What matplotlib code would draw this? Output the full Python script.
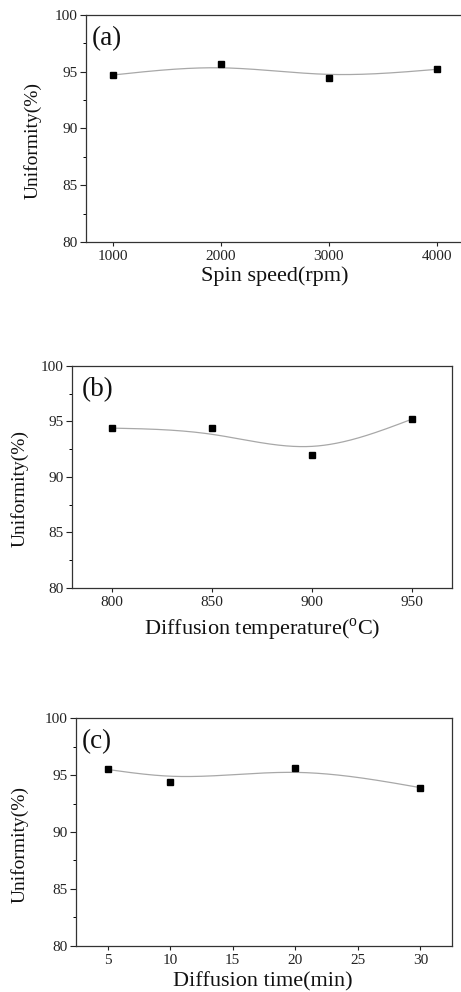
import numpy as np
import matplotlib
matplotlib.use('Agg')
import matplotlib.pyplot as plt

plt.rcParams['font.family'] = ['Liberation Serif', 'DejaVu Serif']
plt.rcParams['mathtext.fontset'] = 'custom'
plt.rcParams['mathtext.rm'] = 'Liberation Serif'

# (a) spin speed
speed = [1000, 2000, 3000, 4000]
unif_speed = [94.7, 95.7, 94.4, 95.2]
# (b) diffusion temperature
temp = [800, 850, 900, 950]
unif_temp = [94.4, 94.4, 92.0, 95.2]
# (c) diffusion time
dtime = [5, 10, 20, 30]
unif_time = [95.5, 94.4, 95.6, 93.9]


def smooth_curve(x, y, lam=0.002, n=400):
    # penalised (smoothing-spline like) curve, ends held on the data
    x = np.asarray(x, float)
    y = np.asarray(y, float)
    t = (x - x[0]) / (x[-1] - x[0])
    g = np.linspace(0, 1, n)
    h = g[1] - g[0]
    A = np.zeros((len(t), n))
    for i, ti in enumerate(t):
        k = min(int(ti / h), n - 2)
        w = (ti - g[k]) / h
        A[i, k] = 1 - w
        A[i, k + 1] = w
    D = np.diff(np.eye(n), 2, axis=0) / h**2
    wts = np.ones(len(t))
    wts[0] = wts[-1] = 1e6
    M = A.T @ (wts[:, None] * A) + lam * h * D.T @ D
    f = np.linalg.solve(M, A.T @ (wts * y))
    return x[0] + g * (x[-1] - x[0]), f


fig = plt.figure(figsize=(4.61, 9.92), dpi=100)

panels = [
    dict(rect=[0.1866, 0.756, 0.8193, 0.2291], x=speed, y=unif_speed,
         xlim=(750, 4250), xticks=[1000, 2000, 3000, 4000],
         xlabel='Spin speed(rpm)', tag='(a)',
         xl=(0.5, -0.15), yl=(-0.14, 0.445), tg=(0.015, 0.893)),
    dict(rect=[0.1568, 0.4073, 0.823, 0.2238], x=temp, y=unif_temp,
         xlim=(780, 970), xticks=[800, 850, 900, 950],
         xlabel='Diffusion temperature($^{\\rm o}$C)', tag='(b)',
         xl=(0.5, -0.19), yl=(-0.138, 0.446), tg=(0.025, 0.892)),
    dict(rect=[0.1655, 0.0467, 0.8143, 0.2292], x=dtime, y=unif_time,
         xlim=(2.5, 32.5), xticks=[5, 10, 15, 20, 25, 30],
         xlabel='Diffusion time(min)', tag='(c)',
         xl=(0.497, -0.158), yl=(-0.15, 0.445), tg=(0.014, 0.897)),
]

for p in panels:
    ax = fig.add_axes(p['rect'])
    cx, cy = smooth_curve(p['x'], p['y'])
    ax.plot(cx, cy, color='#a8a8a8', lw=0.9, zorder=2)
    ax.plot(p['x'], p['y'], 's', color='black', ms=4, zorder=3)
    ax.set_xlim(*p['xlim'])
    ax.set_ylim(80, 100)
    ax.set_xticks(p['xticks'])
    ax.set_yticks([80, 85, 90, 95, 100])
    ax.set_yticks(np.arange(82.5, 100, 5), minor=True)
    for s in ax.spines.values():
        s.set_color('#333333')
        s.set_linewidth(0.9)
    ax.tick_params(axis='both', direction='out', labelsize=11, colors='#222222',
                   width=0.8, top=False, right=False)
    ax.tick_params(axis='x', length=3, pad=3)
    ax.tick_params(axis='y', which='major', length=4, pad=2)
    ax.tick_params(axis='y', which='minor', length=2.5, width=0.7)
    ax.set_xlabel(p['xlabel'], fontsize=16, color='#111111')
    ax.xaxis.set_label_coords(*p['xl'])
    ax.xaxis.label.set_va('center')
    ax.set_ylabel('Uniformity(%)', fontsize=14, color='#111111')
    ax.yaxis.set_label_coords(*p['yl'])
    ax.yaxis.label.set_va('center')
    ax.text(p['tg'][0], p['tg'][1], p['tag'], transform=ax.transAxes,
            fontsize=19.5, va='center', ha='left', color='#111111')

fig.savefig('out.png', dpi=100)
